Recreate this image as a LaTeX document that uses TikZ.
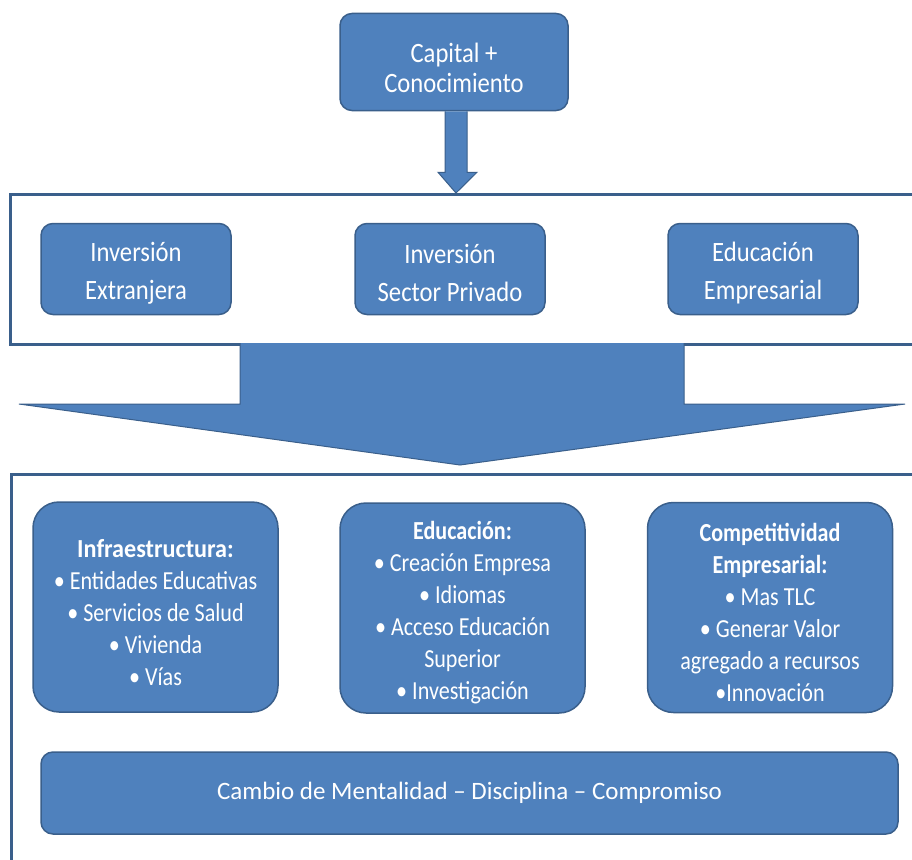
\documentclass[tikz,border=0pt]{standalone}
\usepackage{fontspec}
\setmainfont{Carlito}
\newfontfamily\condfont[FakeStretch=0.88]{Carlito}
\newfontfamily\narrowfont[FakeStretch=0.85]{Carlito}
\newfontfamily\titlefont[FakeStretch=0.93]{Carlito}
\usetikzlibrary{calc}
\definecolor{boxfill}{HTML}{4F81BD}
\definecolor{boxline}{HTML}{3A5F8B}
\begin{document}
\begin{tikzpicture}[x=1pt,y=-1pt,
  box/.style={draw=boxline, line width=1.5pt, fill=boxfill, rounded corners=12pt, inner sep=0pt},
  txt/.style={text=white, align=center, inner sep=0pt},
  bigbox/.style={box, rounded corners=26pt, minimum width=245pt, minimum height=210pt},
  bigtxt/.style={txt, font=\narrowfont\fontsize{26}{32}\selectfont},
  rowbox/.style={box, minimum width=190pt, minimum height=91pt},
  rowtxt/.style={txt, font=\condfont\fontsize{28}{38}\selectfont},
  frame/.style={draw=boxline, line width=2.5pt, fill=white, rectangle, inner sep=0pt, anchor=north west},
  fat/.style={fill=boxfill, draw=boxline, line width=1pt, line join=miter}]
\useasboundingbox (0,0) rectangle (912,859);
\clip (0,0) rectangle (912,859);
\fill[white] (0,0) rectangle (912,859);
% frames
\node[frame, minimum width=930pt, minimum height=150pt] (f1) at (9,193) {};
\node[frame, minimum width=930pt, minimum height=450pt] (f2) at (10,473) {};
% top box
\node[box, minimum width=228pt, minimum height=97pt] (cap) at (454,62) {};
\node[txt, font=\condfont\fontsize{28}{30}\selectfont] (capt) at ($(cap.center)+(0,6)$) {Capital +\\Conocimiento};
% small arrow
\coordinate (ac) at ($(cap.south)+(2,0)$);
\draw[fat] ($(ac)+(-11,0)$) -- ($(ac)+(-11,61)$) -- ($(ac)+(-18,61)$)
  -- (ac |- f1.north) -- ($(ac)+(21,61)$) -- ($(ac)+(11,61)$) -- ($(ac)+(11,0)$);
% row boxes
\node[rowbox] (ie) at (136,269) {};
\node[rowtxt] (iet) at ($(ie.center)+(0,4)$) {Inversión\\Extranjera};
\node[rowbox] (isp) at (450,269) {};
\node[rowtxt] (ispt) at ($(isp.center)+(0,4)$) {Inversión\\Sector Privado};
\node[rowbox] (ee) at (763,269) {};
\node[rowtxt] (eet) at ($(ee.center)+(0,4)$) {Educación\\Empresarial};
% big arrow
\coordinate (tip) at (460,465);
\draw[fat] (240,343) -- (240,404) -- (19,404) -- (tip) -- (905,404) -- (684,404) -- (684,343);
% lower boxes
\node[bigbox] (inf) at (155.5,607) {};
\node[bigtxt] (inft) at ($(inf.center)+(0,6)$) {{\titlefont\bfseries Infraestructura:}\\• Entidades Educativas\\• Servicios de Salud\\• Vivienda\\• Vías};
\node[bigbox] (edu) at (462.5,608) {};
\node[bigtxt] (edut) at ($(edu.center)+(0,5)$) {\textbf{Educación:}\\• Creación Empresa\\• Idiomas\\• Acceso Educación\\Superior\\• Investigación};
\node[bigbox] (comp) at (770,607.5) {};
\node[bigtxt] (compt) at ($(comp.center)+(0,5)$) {\textbf{Competitividad}\\\textbf{Empresarial:}\\• Mas TLC\\• Generar Valor\\agregado a recursos\\•Innovación};
% bottom bar
\node[box, minimum width=857pt, minimum height=82pt] (cm) at (469.5,793) {};
\node[txt, font=\fontsize{25}{30}\selectfont] (cmt) at (cm.center) {Cambio de Mentalidad – Disciplina – Compromiso};
\end{tikzpicture}
\end{document}
